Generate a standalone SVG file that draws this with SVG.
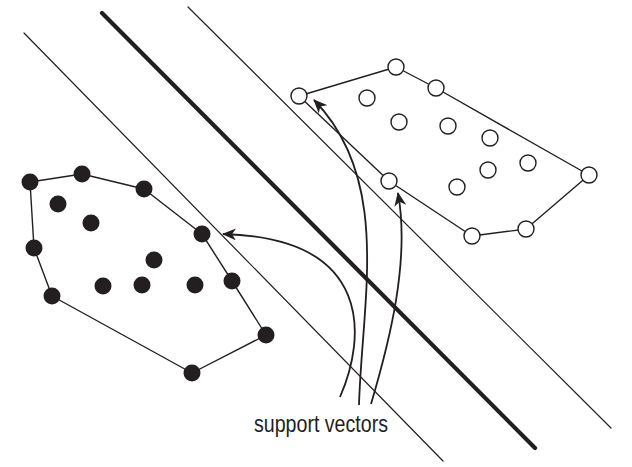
<svg xmlns="http://www.w3.org/2000/svg" width="632" height="467" viewBox="0 0 632 467">
<defs>
<style>
.bg{fill:#ffffff}
.sep{stroke:#231f20;stroke-width:1.2;fill:none;stroke-linecap:round}
.main{stroke:#231f20;stroke-width:4.2;fill:none;stroke-linecap:round}
.hull{stroke:#231f20;stroke-width:1.4;fill:none;stroke-linejoin:round}
.pos{fill:#231f20}
.neg{fill:#ffffff;stroke:#231f20;stroke-width:1.4}
.arr{stroke:#231f20;stroke-width:1.8;fill:none;marker-end:url(#ah)}
.lbl{font-family:"Liberation Sans Narrow","Liberation Sans",Arial,sans-serif;font-size:23px;fill:#231f20}
</style>
<marker id="ah" viewBox="0 0 14 12" refX="13" refY="6" markerWidth="14" markerHeight="12" markerUnits="userSpaceOnUse" orient="auto">
<path d="M0,0 L14,6 L0,12 L4,6 Z" fill="#231f20"/>
</marker>
</defs>
<rect class="bg" x="0" y="0" width="632" height="467"/>
<g id="separators">
<line class="sep" x1="24" y1="33" x2="443" y2="461"/>
<line class="main" x1="102" y1="13" x2="535" y2="448"/>
<line class="sep" x1="188" y1="7" x2="611" y2="428"/>
</g>
<g id="class-black">
<polygon class="hull" points="30,182 82,174 144,189 202,234 232,281 266,335 192,373 52,296 34,248"/>
<circle class="pos" cx="30" cy="182" r="8.5"/>
<circle class="pos" cx="82" cy="174" r="8.5"/>
<circle class="pos" cx="144" cy="189" r="8.5"/>
<circle class="pos" cx="202" cy="234" r="8.5"/>
<circle class="pos" cx="232" cy="281" r="8.5"/>
<circle class="pos" cx="266" cy="335" r="8.5"/>
<circle class="pos" cx="192" cy="373" r="8.5"/>
<circle class="pos" cx="52" cy="296" r="8.5"/>
<circle class="pos" cx="34" cy="248" r="8.5"/>
<circle class="pos" cx="58" cy="204" r="8.5"/>
<circle class="pos" cx="91" cy="223" r="8.5"/>
<circle class="pos" cx="154" cy="260" r="8.5"/>
<circle class="pos" cx="103" cy="286" r="8.5"/>
<circle class="pos" cx="142" cy="285" r="8.5"/>
<circle class="pos" cx="195" cy="285" r="8.5"/>
</g>
<g id="class-white">
<polygon class="hull" points="299,96 396,67 436,88 589,175 526,229 472,236 389,181"/>
<circle class="neg" cx="299" cy="96" r="8"/>
<circle class="neg" cx="396" cy="67" r="8"/>
<circle class="neg" cx="436" cy="88" r="8"/>
<circle class="neg" cx="589" cy="175" r="8"/>
<circle class="neg" cx="526" cy="229" r="8"/>
<circle class="neg" cx="472" cy="236" r="8"/>
<circle class="neg" cx="389" cy="181" r="8"/>
<circle class="neg" cx="367" cy="98" r="8"/>
<circle class="neg" cx="399" cy="122" r="8"/>
<circle class="neg" cx="448" cy="126" r="8"/>
<circle class="neg" cx="490" cy="138" r="8"/>
<circle class="neg" cx="488" cy="170" r="8"/>
<circle class="neg" cx="528" cy="163" r="8"/>
<circle class="neg" cx="457" cy="187" r="8"/>
</g>
<g id="connectors">
<path class="arr" d="M340,397 C366,338 374,238 223,234"/>
<path class="arr" d="M359,405 C362,300 392,180 314,100"/>
<path class="arr" d="M371,404 C390,340 410,260 398,193"/>
</g>
<g id="label">
<text class="lbl" x="254" y="432" textLength="134" lengthAdjust="spacingAndGlyphs">support vectors</text>
</g>
</svg>
